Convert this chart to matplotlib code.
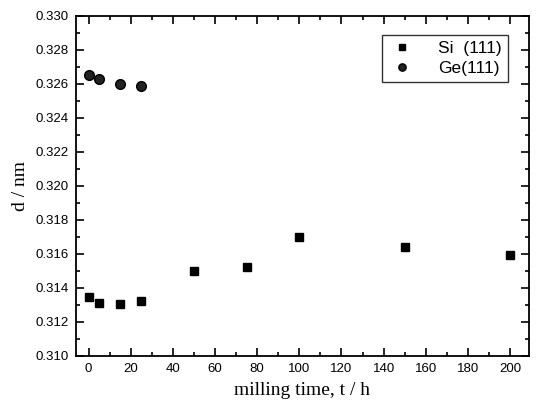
import matplotlib
matplotlib.use("Agg")
import matplotlib.pyplot as plt
from matplotlib.ticker import MultipleLocator

si_t = [0, 5, 15, 25, 50, 75, 100, 150, 200]
si_d = [0.31345, 0.31314, 0.31304, 0.31324, 0.31498, 0.31525, 0.31698, 0.31643, 0.31592]
ge_t = [0, 5, 15, 25]
ge_d = [0.32653, 0.32631, 0.32600, 0.32588]

fig = plt.figure(figsize=(5.36, 4.09), dpi=100)
ax = fig.add_axes([76/536, 1-356/409, (529-76)/536, (356-16)/409])

ax.plot(si_t, si_d, 's', color='black', markersize=6.3, linestyle='none', label='Si  (111)')
ax.plot(ge_t, ge_d, 'o', color='#222222', markeredgecolor='black', markersize=7, linestyle='none', label='Ge(111)')

ax.set_xlim(-6, 209)
ax.set_ylim(0.310, 0.330)
ax.xaxis.set_major_locator(MultipleLocator(20))
ax.xaxis.set_minor_locator(MultipleLocator(10))
ax.yaxis.set_major_locator(MultipleLocator(0.002))
ax.yaxis.set_minor_locator(MultipleLocator(0.001))
ax.tick_params(which='both', direction='in', top=True, right=True, width=1.2)
ax.tick_params(which='major', length=6, labelsize=9.5, pad=5)
ax.tick_params(which='minor', length=3)
for lab in ax.get_xticklabels() + ax.get_yticklabels():
    lab.set_family('Liberation Sans')
ax.yaxis.set_major_formatter(matplotlib.ticker.FormatStrFormatter('%.3f'))
for s in ax.spines.values():
    s.set_linewidth(1.3)

ax.set_xlabel('milling time, t / h', family='Liberation Serif', fontsize=14, labelpad=5)
ax.set_ylabel('d / nm', family='Liberation Serif', fontsize=14, labelpad=5)

leg = ax.legend(loc='upper right', bbox_to_anchor=(0.954, 0.944), frameon=True, fancybox=False,
                edgecolor='black', handletextpad=1.3, borderpad=0.35, labelspacing=0.25,
                borderaxespad=0, markerscale=0.75,
                prop={'family': 'Liberation Sans', 'size': 12.5}, handlelength=1.6)
leg.get_frame().set_linewidth(1.0)

fig.savefig('out.png', dpi=100)
